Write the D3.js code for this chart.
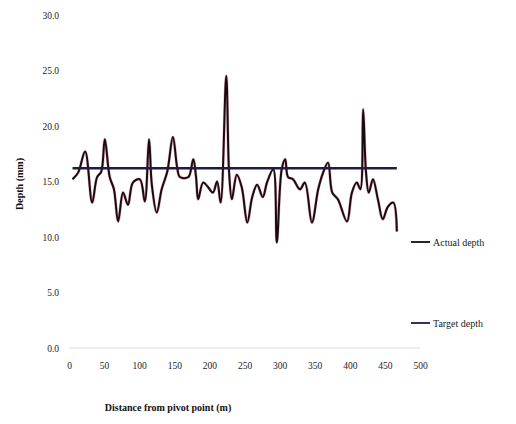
<!DOCTYPE html>
<html>
<head>
<meta charset="utf-8">
<script src="https://cdn.jsdelivr.net/npm/d3@7"></script>
<style>
  html, body { margin: 0; padding: 0; background: #fff; }
  svg { display: block; }
</style>
</head>
<body>
<div id="chart"></div>
<script>
// Measured depth along the run, metres from the pivot point
const distance = [5, 13, 23, 33, 40, 46, 51, 58, 64, 70, 77, 84, 91, 101, 108, 114, 118, 125, 132, 140,
  148, 154, 158, 170, 177, 181, 184, 191, 198, 205, 211, 216, 224, 228, 232, 239, 246, 254, 261, 268,
  276, 282, 291, 296, 303, 308, 312, 319, 329, 336, 346, 355, 362, 369, 375, 383, 396, 403, 410, 415,
  419, 423, 427, 433, 440, 447, 454, 462, 467];
const actualDepth = [15.2, 15.8, 17.7, 13.1, 15.4, 15.9, 18.8, 15.4, 14.3, 11.4, 14.0, 12.9, 14.9, 15.2, 13.2, 18.8, 14.7, 12.2, 14.3, 15.9,
  19.0, 16.3, 15.4, 15.4, 17.0, 15.4, 13.4, 14.9, 14.5, 14.0, 15.0, 13.1, 24.5, 15.9, 13.4, 15.6, 14.5, 11.3, 13.6, 14.7,
  13.6, 14.9, 16.1, 9.5, 16.1, 17.0, 15.4, 15.2, 14.3, 14.9, 11.3, 14.3, 15.8, 16.7, 14.0, 13.4, 11.4, 14.0, 14.9, 14.3,
  21.5, 15.9, 14.0, 15.2, 13.4, 11.6, 12.7, 13.1, 10.5];
const targetDepth = 16.2;
const targetRange = [5, 467];

const xTicks = [0, 50, 100, 150, 200, 250, 300, 350, 400, 450, 500];
const yTicks = [0, 5, 10, 15, 20, 25, 30];
const seriesNames = ["Actual depth", "Target depth"];

const W = 516, H = 424;
const svg = d3.select("#chart").append("svg").attr("width", W).attr("height", H);
svg.append("rect").attr("width", W).attr("height", H).attr("fill", "#fff");

const x = d3.scaleLinear().domain([0, 500]).range([69, 420]);
const y = d3.scaleLinear().domain([0, 30]).range([348, 15]);

const font = "'Liberation Serif', 'DejaVu Serif', serif";

// faint horizontal axis at zero
svg.append("line")
  .attr("x1", x(0)).attr("x2", x(500))
  .attr("y1", y(0)).attr("y2", y(0))
  .attr("stroke", "#dcdcdc").attr("stroke-width", 1);

// y-axis labels
const yAxis = d3.axisLeft(y).tickValues(yTicks).tickFormat(d3.format(".1f")).tickSize(0).tickPadding(0);
const gy = svg.append("g").attr("transform", "translate(59,0)").call(yAxis);
gy.select(".domain").remove();
gy.selectAll("text").attr("font-family", font).attr("font-size", 9.5).attr("fill", "#222");

// x-axis labels
const xAxis = d3.axisBottom(x).tickValues(xTicks).tickFormat(d3.format("d")).tickSize(0).tickPadding(0);
const gx = svg.append("g").attr("transform", "translate(0,362)").call(xAxis);
gx.select(".domain").remove();
gx.selectAll("text").attr("font-family", font).attr("font-size", 9.5).attr("fill", "#222");

// actual depth, smoothed line
const pts = distance.map((d, i) => [d, actualDepth[i]]);
const line = d3.line().x(d => x(d[0])).y(d => y(d[1])).curve(d3.curveCatmullRom.alpha(0.5));
svg.append("path").datum(pts)
  .attr("d", line)
  .attr("fill", "none")
  .attr("stroke", "#c0607a").attr("stroke-width", 3).attr("stroke-opacity", 0.45);
svg.append("path").datum(pts)
  .attr("d", line)
  .attr("fill", "none")
  .attr("stroke", "#1a0a10").attr("stroke-width", 2);

// target depth
svg.append("line")
  .attr("x1", x(targetRange[0])).attr("x2", x(targetRange[1]))
  .attr("y1", y(targetDepth)).attr("y2", y(targetDepth))
  .attr("stroke", "#1b1d45").attr("stroke-width", 2.4);

// legend
const legendY = [242, 323];
const legendColor = ["#1a0a10", "#1b1d45"];
seriesNames.forEach((name, i) => {
  svg.append("line")
    .attr("x1", 411).attr("x2", 430)
    .attr("y1", legendY[i]).attr("y2", legendY[i])
    .attr("stroke", legendColor[i]).attr("stroke-width", 1.8);
  svg.append("text")
    .attr("x", 433).attr("y", legendY[i] + 3.5)
    .attr("font-family", font).attr("font-size", 10).attr("fill", "#222")
    .text(name);
});

// axis titles
svg.append("text")
  .attr("transform", "translate(23,184) rotate(-90)")
  .attr("text-anchor", "middle")
  .attr("font-family", font).attr("font-size", 10).attr("font-weight", "bold").attr("fill", "#111")
  .text("Depth (mm)");
svg.append("text")
  .attr("x", 168).attr("y", 411)
  .attr("text-anchor", "middle")
  .attr("font-family", font).attr("font-size", 10).attr("font-weight", "bold").attr("fill", "#111")
  .text("Distance from pivot point (m)");
</script>
</body>
</html>
